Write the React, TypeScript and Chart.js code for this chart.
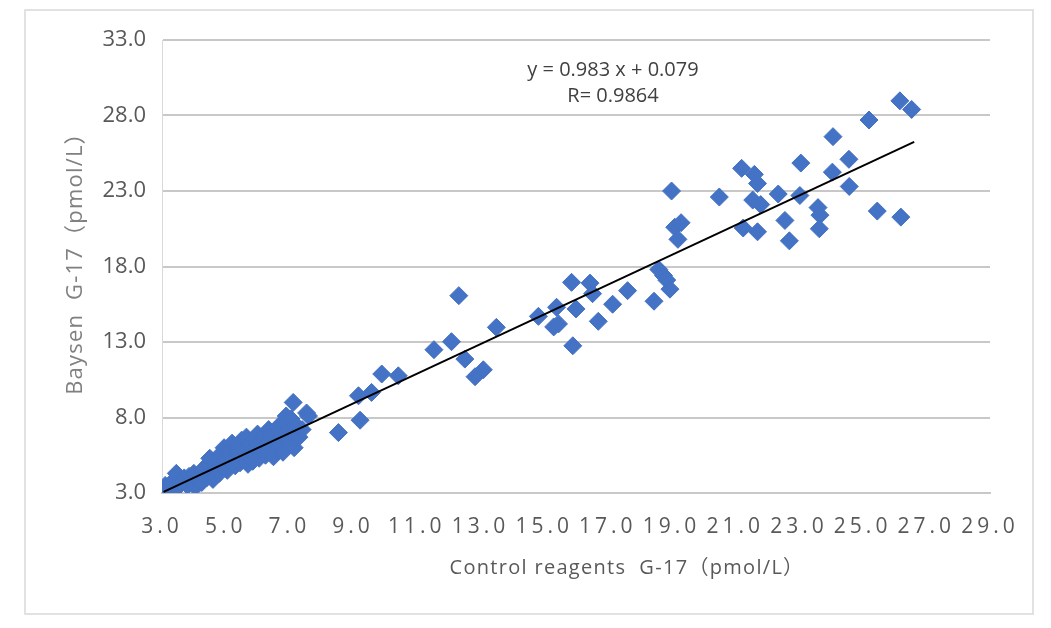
import React, { useEffect, useRef } from "react";
import { Chart, registerables } from "chart.js";

Chart.register(...registerables);

// Control reagents G-17 (x) vs Baysen G-17 (y), pmol/L
const controlValues: number[] = [
  3.05, 3.1, 3.2, 3.3, 3.35, 3.4, 3.45, 3.5, 3.6, 3.7, 3.8, 3.85, 3.9, 4.0, 4.05, 4.1, 4.2, 4.25, 4.3, 4.4,
  4.45, 4.5, 4.55, 4.6, 4.7, 4.75, 4.8, 4.85, 4.9, 4.95, 5.0, 5.05, 5.1, 5.15, 5.2, 5.25, 5.3, 5.35, 5.4, 5.45,
  5.5, 5.55, 5.6, 5.65, 5.7, 5.75, 5.8, 5.85, 5.9, 5.95, 6.0, 6.05, 6.1, 6.15, 6.2, 6.25, 6.3, 6.35, 6.4, 6.45,
  6.5, 6.55, 6.6, 6.65, 6.7, 6.75, 6.8, 6.85, 6.9, 6.95, 7.0, 7.05, 7.1, 7.12, 7.15, 7.2, 7.3, 7.4, 7.54, 7.6,
  8.54, 9.22, 9.17, 9.58, 9.9, 10.42, 11.54, 12.09, 12.32, 12.51, 12.83, 13.09, 13.5,
  14.82, 15.39, 15.3, 15.45, 15.86, 16.0, 16.44, 16.52, 15.9, 16.7, 17.15, 17.62, 18.6, 18.75, 18.85, 18.95, 18.45,
  19.0, 19.1, 19.3, 19.2, 20.5, 21.2, 21.6, 21.7, 21.55, 21.8, 21.25, 21.7, 22.35, 22.56, 22.7, 23.06, 23.03,
  23.6, 23.66, 23.64, 24.07, 24.05, 24.57, 24.58, 25.2, 25.46, 26.2, 26.17, 26.54,
];
const baysenValues: number[] = [
  3.3, 3.5, 3.2, 3.6, 3.1, 3.9, 4.3, 3.4, 3.7, 4.0, 3.5, 4.1, 3.8, 4.3, 3.4, 3.9, 4.2, 3.7, 4.6, 4.0,
  4.9, 5.3, 4.4, 3.9, 4.7, 5.1, 4.3, 5.6, 4.8, 6.0, 5.2, 4.5, 5.8, 4.9, 6.3, 5.4, 4.8, 6.1, 5.6, 5.0,
  6.5, 5.9, 5.3, 6.7, 4.9, 6.2, 5.7, 5.1, 6.5, 6.0, 6.9, 5.3, 6.4, 5.8, 6.8, 5.5, 6.2, 7.2, 5.9, 6.6,
  5.4, 7.0, 6.3, 7.4, 6.0, 6.8, 5.7, 7.6, 8.1, 6.5, 7.2, 7.9, 6.8, 9.0, 6.0, 7.5, 6.7, 7.2, 8.3, 8.1,
  7.0, 7.82, 9.44, 9.66, 10.88, 10.76, 12.49, 13.02, 16.07, 11.87, 10.7, 11.16, 13.97,
  14.7, 15.3, 14.0, 14.2, 16.95, 15.19, 16.9, 16.2, 12.75, 14.37, 15.5, 16.4, 17.8, 17.4, 17.1, 16.5, 15.7,
  23.0, 20.6, 20.9, 19.8, 22.6, 24.5, 24.1, 23.5, 22.4, 22.1, 20.55, 20.3, 22.8, 21.05, 19.7, 24.85, 22.7,
  21.9, 21.4, 20.5, 26.6, 24.25, 25.1, 23.3, 27.7, 21.67, 21.27, 28.97, 28.4,
];

// Linear fit endpoints: y = 0.983 x + 0.079
const trendX: number[] = [3.05, 26.62];
const trendY: number[] = [3.08, 26.25];

const xTicks: number[] = [3, 5, 7, 9, 11, 13, 15, 17, 19, 21, 23, 25, 27, 29];
const yTicks: number[] = [3, 8, 13, 18, 23, 28, 33];

const equationText = "y = 0.983 x + 0.079";
const rText = "R= 0.9864";
const xTitle = "Control reagents  G-17（pmol/L）";
const yTitle = "Baysen  G-17（pmol/L）";

const FONT = "'Open Sans', 'Noto Sans', 'Noto Sans CJK SC', sans-serif";

export default function App() {
  const ref = useRef<HTMLCanvasElement | null>(null);

  useEffect(() => {
    document.body.style.margin = "0";
    const canvas = ref.current;
    if (!canvas) return;

    const points = controlValues.map((x, i) => ({ x, y: baysenValues[i] }));
    const trend = trendX.map((x, i) => ({ x, y: trendY[i] }));

    const decor = {
      id: "decor",
      beforeDraw(chart: any) {
        const ctx = chart.ctx;
        ctx.save();
        ctx.fillStyle = "#ffffff";
        ctx.fillRect(0, 0, chart.width, chart.height);
        ctx.strokeStyle = "#d9d9d9";
        ctx.lineWidth = 1.5;
        ctx.strokeRect(25, 10, 1008, 604);
        ctx.restore();
      },
      afterDraw(chart: any) {
        const ctx = chart.ctx;
        ctx.save();
        ctx.fillStyle = "#404040";
        ctx.font = "20px " + FONT;
        ctx.textAlign = "center";
        ctx.textBaseline = "middle";
        ctx.fillText(equationText, 613, 70);
        ctx.fillText(rText, 613, 96);

        ctx.fillStyle = "#595959";
        ctx.font = "20px " + FONT;
        (ctx as any).letterSpacing = "1.3px";
        ctx.fillText(xTitle, 627, 568);

        ctx.fillStyle = "#808080";
        ctx.font = "22px " + FONT;
        (ctx as any).letterSpacing = "1.2px";
        ctx.translate(76, 258);
        ctx.rotate(-Math.PI / 2);
        ctx.fillText(yTitle, 0, 0);
        ctx.restore();
      },
    };

    const chart = new Chart(canvas, {
      type: "scatter",
      data: {
        datasets: [
          {
            type: "line",
            label: "trend",
            data: trend,
            borderColor: "#000000",
            borderWidth: 2,
            pointRadius: 0,
            fill: false,
            order: 0,
          } as any,
          {
            label: "G-17",
            data: points,
            pointStyle: "rectRot",
            pointRadius: 9,
            backgroundColor: "#4472C4",
            borderColor: "#4472C4",
            borderWidth: 1,
            order: 1,
          },
        ],
      },
      options: {
        responsive: false,
        animation: false,
        events: [],
        layout: { padding: { top: 40, right: 61, left: 0, bottom: 0 } },
        plugins: {
          legend: { display: false },
          tooltip: { enabled: false },
        },
        scales: {
          x: {
            type: "linear",
            min: 3,
            max: 29,
            afterBuildTicks: (scale: any) => {
              scale.ticks = xTicks.map((v) => ({ value: v }));
            },
            afterFit: (scale: any) => {
              scale.height = 135;
            },
            afterUpdate: (scale: any) => {
              if (!scale.__spaced) {
                const orig = scale.drawLabels.bind(scale);
                scale.drawLabels = (area: any) => {
                  const c = scale.ctx;
                  c.save();
                  c.letterSpacing = "4px";
                  orig(area);
                  c.restore();
                };
                scale.__spaced = true;
              }
            },
            ticks: {
              callback: (v: any) => Number(v).toFixed(1),
              font: { size: 21, family: FONT },
              color: "#595959",
              padding: 21,
              maxRotation: 0,
              autoSkip: false,
            },
            grid: { display: false, drawTicks: false },
            border: { display: true, color: "#c8c8c8", width: 2 },
          },
          y: {
            type: "linear",
            min: 3,
            max: 33,
            afterBuildTicks: (scale: any) => {
              scale.ticks = yTicks.map((v) => ({ value: v }));
            },
            afterFit: (scale: any) => {
              scale.width = 162;
            },
            ticks: {
              callback: (v: any) => Number(v).toFixed(1),
              font: { size: 22, family: FONT },
              color: "#595959",
              padding: 16,
            },
            grid: { color: "#c8c8c8", lineWidth: 2, drawTicks: false },
            border: { display: true, color: "#d9d9d9", width: 1 },
          },
        },
      },
      plugins: [decor],
    });

    return () => chart.destroy();
  }, []);

  return (
    <div style={{ position: "absolute", left: 0, top: 0, width: 1051, height: 628 }}>
      <canvas ref={ref} width={1051} height={628} style={{ width: 1051, height: 628, display: "block" }} />
    </div>
  );
}
